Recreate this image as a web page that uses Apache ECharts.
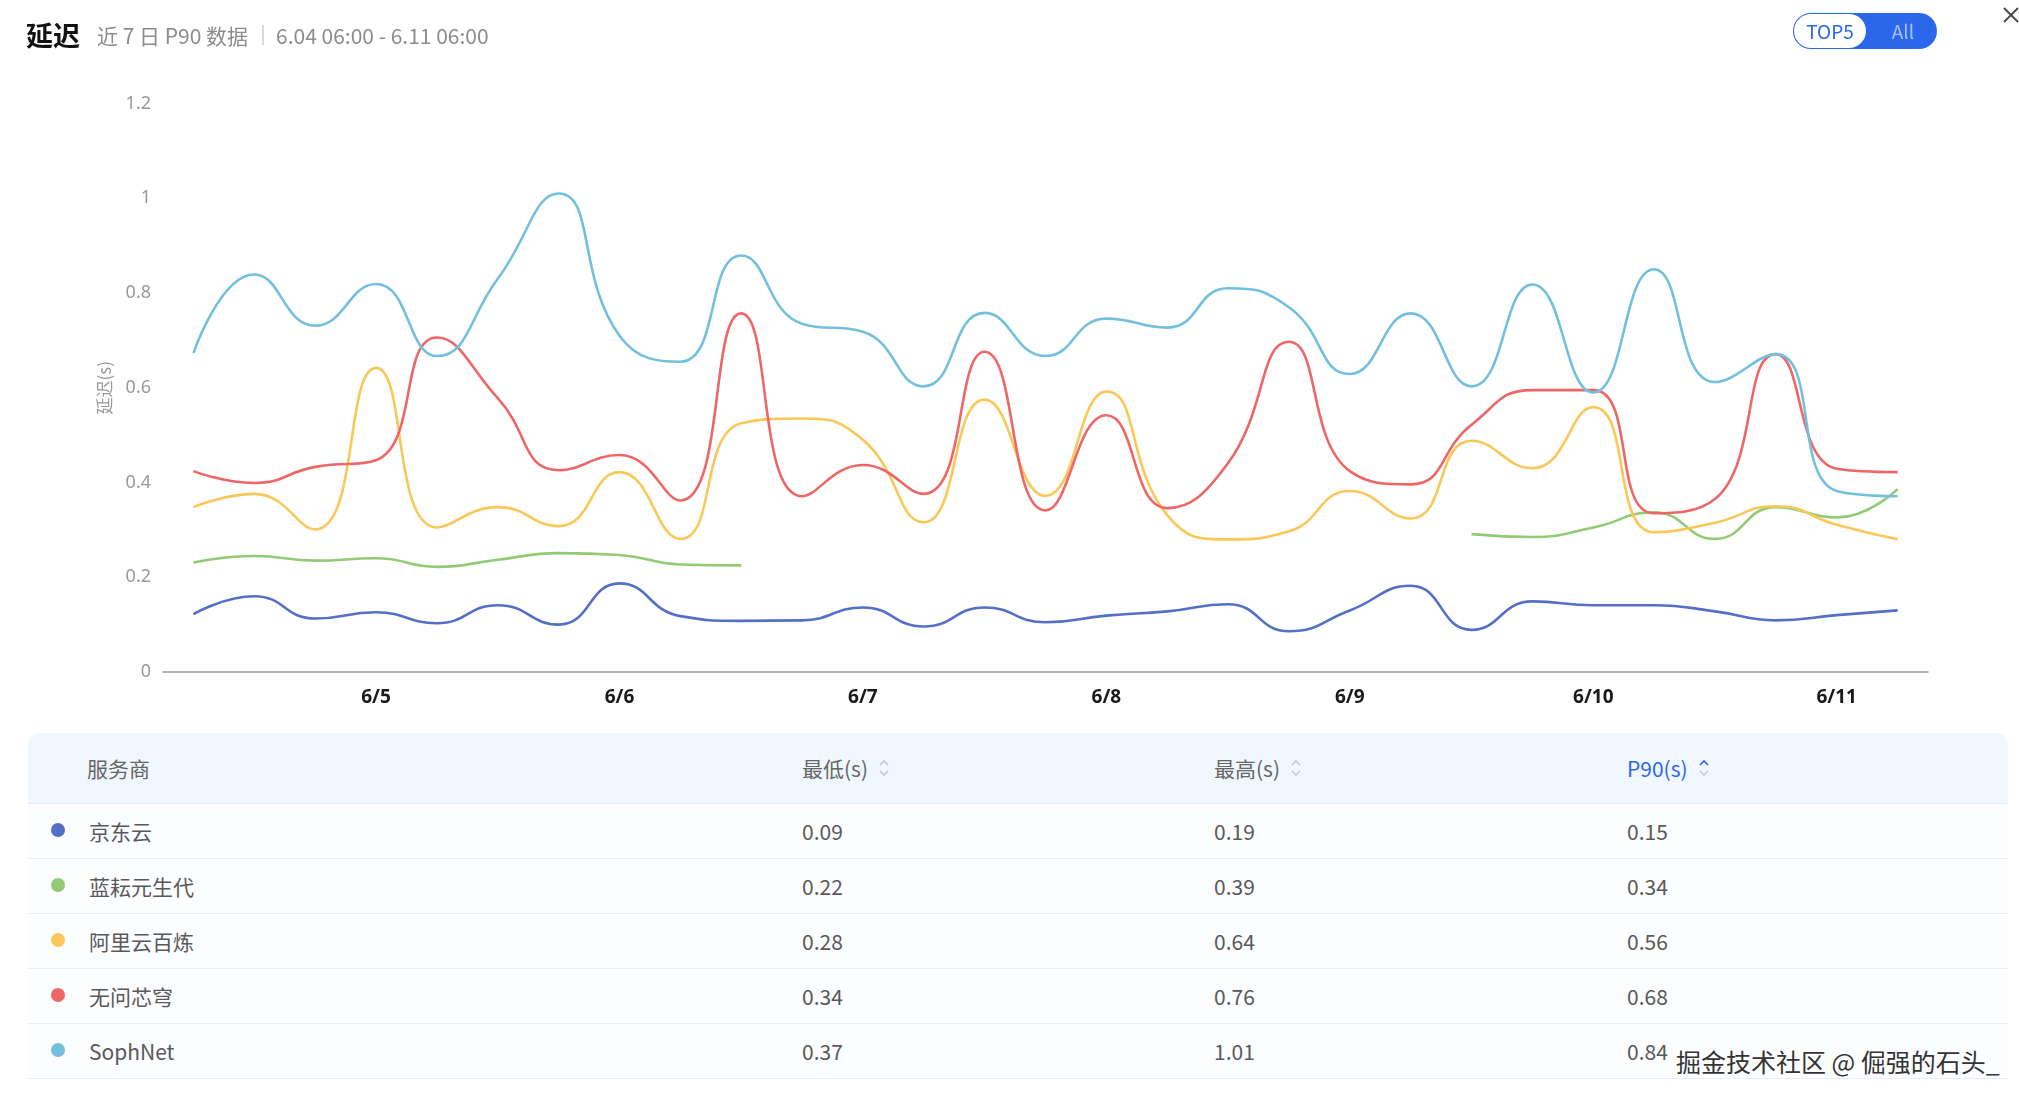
<!DOCTYPE html>
<html>
<head>
<meta charset="utf-8">
<script src="https://cdn.jsdelivr.net/npm/echarts@6/dist/echarts.min.js"></script>
<style>
  html,body{margin:0;padding:0;background:#fff;}
  body{width:2019px;height:1098px;position:relative;overflow:hidden;font-family:"Noto Sans CJK SC","Noto Sans",sans-serif;}
  .abs{position:absolute;}
  #title{left:26px;top:15px;font-size:27px;font-weight:bold;color:#111;line-height:40px;}
  #sub{left:97px;top:16px;font-size:21px;color:#8c8c8c;line-height:38px;white-space:pre;}
  #sep{left:262px;top:25px;width:1.5px;height:20px;background:#d9d9d9;}
  #range{left:276px;top:16px;font-size:21px;color:#8c8c8c;line-height:38px;}
  #toggle{left:1793px;top:13px;width:144px;height:36px;border-radius:18px;background:#2b67ea;box-sizing:border-box;}
  #top5{left:1px;top:1px;width:72px;height:34px;border-radius:17px;background:#fff;color:#2b67ea;font-size:19px;line-height:34px;text-align:center;}
  #all{left:80px;top:1px;width:60px;height:34px;color:#a7c0f6;font-size:19px;line-height:34px;text-align:center;}
  #chart{left:0;top:0;width:2019px;height:730px;}
  #table{left:28px;top:733px;width:1980px;}
  .hdr{position:relative;height:70px;background:#f1f7fe;border-radius:12px 12px 0 0;border-bottom:1px solid #e6ecf3;}
  .row{position:relative;height:54px;background:#fbfdff;border-bottom:1px solid #e9eef4;}
  .cell{position:absolute;top:0;height:100%;display:flex;align-items:center;font-size:21px;color:#595959;white-space:nowrap;}
  .hdr .cell{color:#666;}
  .dot{position:absolute;left:23px;width:14px;height:14px;border-radius:7px;top:50%;margin-top:-8px;}
  svg.sort{margin-left:10px;}
  #wm{left:1676px;top:1043px;font-size:25px;color:#333;line-height:36px;white-space:pre;
      text-shadow:-1px -1px 0 #fff,1px -1px 0 #fff,-1px 1px 0 #fff,1px 1px 0 #fff;}
</style>
</head>
<body>
<div id="chart" class="abs"></div>
<div id="title" class="abs">延迟</div>
<div id="sub" class="abs">近 7 日 P90 数据</div>
<div id="sep" class="abs"></div>
<div id="range" class="abs">6.04 06:00 - 6.11 06:00</div>
<div id="toggle" class="abs"><div id="top5" class="abs">TOP5</div><div id="all" class="abs">All</div></div>
<svg class="abs" style="left:2003px;top:7px" width="16" height="16"><line x1="1" y1="1" x2="15" y2="15" stroke="#444" stroke-width="1.8"/><line x1="15" y1="1" x2="1" y2="15" stroke="#444" stroke-width="1.8"/></svg>
<div id="table" class="abs"></div>
<div id="wm" class="abs">掘金技术社区 @ 倔强的石头_</div>
<script>
// ---- data ----
var categories = [
  '6/4 06:00','6/4 12:00','6/4 18:00',
  '6/5 00:00','6/5 06:00','6/5 12:00','6/5 18:00',
  '6/6 00:00','6/6 06:00','6/6 12:00','6/6 18:00',
  '6/7 00:00','6/7 06:00','6/7 12:00','6/7 18:00',
  '6/8 00:00','6/8 06:00','6/8 12:00','6/8 18:00',
  '6/9 00:00','6/9 06:00','6/9 12:00','6/9 18:00',
  '6/10 00:00','6/10 06:00','6/10 12:00','6/10 18:00',
  '6/11 00:00','6/11 06:00'
];
var seriesNames = ['京东云','蓝耘元生代','阿里云百炼','无问芯穹','SophNet'];
var seriesColors = ['#5470c6','#91cc75','#fac858','#ee6666','#73c0de'];
var jdcloud = [0.122,0.160,0.113,0.126,0.103,0.141,0.100,0.187,0.118,0.108,0.109,0.136,0.096,0.136,0.105,0.119,0.128,0.143,0.086,0.130,0.182,0.089,0.149,0.141,0.141,0.128,0.109,0.120,0.130];
var lanyun = [0.231,0.245,0.235,0.240,0.222,0.237,0.251,0.247,0.227,0.225,null,null,null,null,null,null,null,null,null,null,null,0.291,0.285,0.305,0.337,0.281,0.348,0.326,0.386];
var aliyun = [0.348,0.376,0.301,0.642,0.305,0.348,0.308,0.422,0.281,0.525,0.535,0.490,0.316,0.575,0.372,0.592,0.331,0.280,0.297,0.382,0.324,0.488,0.430,0.559,0.295,0.315,0.350,0.311,0.280];
var wuwen = [0.424,0.399,0.433,0.447,0.706,0.578,0.426,0.458,0.362,0.757,0.371,0.437,0.376,0.676,0.341,0.542,0.346,0.441,0.697,0.424,0.396,0.522,0.595,0.595,0.335,0.365,0.671,0.429,0.422];
var sophnet = [0.673,0.839,0.731,0.819,0.667,0.830,1.010,0.710,0.655,0.879,0.735,0.718,0.603,0.758,0.667,0.746,0.727,0.810,0.770,0.629,0.757,0.603,0.818,0.590,0.850,0.612,0.671,0.382,0.371];
var seriesValues = [jdcloud, lanyun, aliyun, wuwen, sophnet];
var yTicks = {min:0, max:1.2, interval:0.2};
var tableMin = ['0.09','0.22','0.28','0.34','0.37'];
var tableMax = ['0.19','0.39','0.64','0.76','1.01'];
var tableP90 = ['0.15','0.34','0.56','0.68','0.84'];
var tableHeaders = ['服务商','最低(s)','最高(s)','P90(s)'];

// ---- chart ----
var chart = echarts.init(document.getElementById('chart'), null, {renderer:'canvas'});
chart.setOption({
  animation:false,
  grid:{left:163, right:91, top:103.5, height:568.5},
  xAxis:{
    type:'category', data:categories, boundaryGap:true,
    axisLine:{lineStyle:{color:'#999', width:1.5}},
    axisTick:{alignWithLabel:true, interval:0, length:11, lineStyle:{color:'#999', width:1.5}},
    axisLabel:{
      interval:function(i,v){return v.split(' ')[1]==='00:00';},
      formatter:function(v){return v.split(' ')[0];},
      color:'#1a1a1a', fontWeight:'bold', fontSize:19, margin:16,
      fontFamily:'Noto Sans'
    }
  },
  yAxis:{
    type:'value', min:yTicks.min, max:yTicks.max, interval:yTicks.interval,
    name:'延迟(s)', nameLocation:'middle', nameRotate:90, nameGap:50,
    nameTextStyle:{color:'#999', fontSize:17, fontFamily:'Noto Sans CJK SC'},
    axisLine:{show:false}, axisTick:{show:false}, splitLine:{show:false},
    axisLabel:{color:'#999', fontSize:18, margin:12, fontFamily:'Noto Sans'}
  },
  series: seriesNames.map(function(n,i){
    return {name:n, type:'line', data:seriesValues[i], smooth:true, showSymbol:false, symbol:'none',
      connectNulls:false, lineStyle:{width:2.6, color:seriesColors[i]}, itemStyle:{color:seriesColors[i]}};
  })
});

// ---- table ----
var colX = [59, 774, 1186, 1599];
function sortIcon(active){
  var up = active ? '#2b67ea' : '#c4c9d2';
  return '<svg class="sort" width="12" height="20"><polyline points="2,7 6,3 10,7" fill="none" stroke="'+up+'" stroke-width="1.6"/><polyline points="2,13 6,17 10,13" fill="none" stroke="#c4c9d2" stroke-width="1.6"/></svg>';
}
var html = '<div class="hdr">';
tableHeaders.forEach(function(h,i){
  var style = 'left:'+colX[i]+'px;' + (i===3 ? 'color:#2b67ea;' : '');
  html += '<div class="cell" style="'+style+'">'+h+(i>0?sortIcon(i===3):'')+'</div>';
});
html += '</div>';
seriesNames.forEach(function(n,r){
  html += '<div class="row"><div class="dot" style="background:'+seriesColors[r]+'"></div>';
  html += '<div class="cell" style="left:61px">'+n+'</div>';
  html += '<div class="cell" style="left:'+colX[1]+'px">'+tableMin[r]+'</div>';
  html += '<div class="cell" style="left:'+colX[2]+'px">'+tableMax[r]+'</div>';
  html += '<div class="cell" style="left:'+colX[3]+'px">'+tableP90[r]+'</div>';
  html += '</div>';
});
document.getElementById('table').innerHTML = html;
</script>
</body>
</html>
